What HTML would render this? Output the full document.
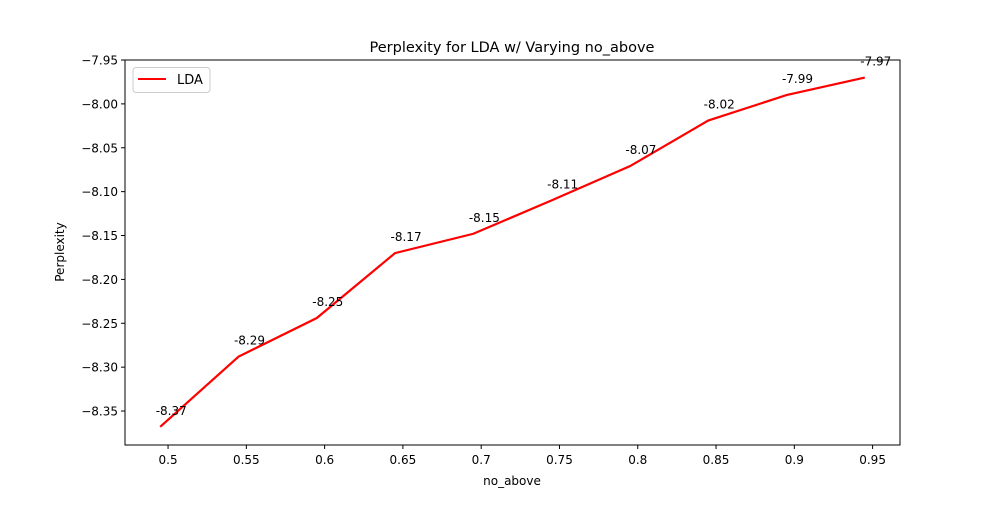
<!DOCTYPE html>
<html><head><meta charset="utf-8"><style>
body{margin:0;background:#fff;}
svg text{font-family:"DejaVu Sans","Liberation Sans",sans-serif;}
</style></head><body>
<svg id="chart" width="1000" height="500" xmlns="http://www.w3.org/2000/svg">
<rect width="1000" height="500" fill="#fff"/>
<text x="512" y="52" font-size="14.5" text-anchor="middle">Perplexity for LDA w/ Varying no_above</text>
<text x="512" y="485" font-size="12" text-anchor="middle">no_above</text>
<text transform="translate(64,252) rotate(-90)" font-size="12" text-anchor="middle">Perplexity</text>
<g id="ticks"></g>
<g id="marks"></g>
<rect x="125" y="60" width="775" height="385" fill="none" stroke="#000" stroke-width="1"/>
<g>
<rect x="133" y="67.5" width="77" height="25" rx="3" fill="#fff" stroke="#ccc"/>
<line x1="138" y1="79" x2="166" y2="79" stroke="red" stroke-width="2"/>
<text x="177" y="84" font-size="13">LDA</text>
</g>
</svg>
<script>
const xValues=[0.495,0.545,0.595,0.645,0.695,0.745,0.795,0.845,0.895,0.945];
const yValues=[-8.368,-8.288,-8.244,-8.170,-8.148,-8.110,-8.071,-8.019,-7.990,-7.970];
const valueLabels=["-8.37","-8.29","-8.25","-8.17","-8.15","-8.11","-8.07","-8.02","-7.99","-7.97"];
const xTicks=[0.5,0.55,0.6,0.65,0.7,0.75,0.8,0.85,0.9,0.95];
const xTickLabels=["0.5","0.55","0.6","0.65","0.7","0.75","0.8","0.85","0.9","0.95"];
const yTicks=[-7.95,-8.0,-8.05,-8.1,-8.15,-8.2,-8.25,-8.3,-8.35];
const yTickLabels=["\u22127.95","\u22128.00","\u22128.05","\u22128.10","\u22128.15","\u22128.20","\u22128.25","\u22128.30","\u22128.35"];
const X0=125,X1=900,Y0=60,Y1=445;
const xmin=0.4725,xmax=0.9675,ymin=-8.3887,ymax=-7.95;
const sx=v=>X0+(v-xmin)/(xmax-xmin)*(X1-X0);
const sy=v=>Y1-(v-ymin)/(ymax-ymin)*(Y1-Y0);
const NS="http://www.w3.org/2000/svg";
const tg=document.getElementById('ticks'),mg=document.getElementById('marks');
function mk(t,a,p){const e=document.createElementNS(NS,t);for(const k in a)e.setAttribute(k,a[k]);p.appendChild(e);return e;}
xTicks.forEach((v,i)=>{
 const l=mk('line',{x1:sx(v),x2:sx(v),y1:Y1,y2:Y1+4,stroke:'#000'},tg);
 
 
 const t=mk('text',{x:sx(v),y:Y1+19,'font-size':12,'text-anchor':'middle'},tg);t.textContent=xTickLabels[i];
 
 
});
yTicks.forEach((v,i)=>{
 const l=mk('line',{x1:X0-4,x2:X0,y1:sy(v),y2:sy(v),stroke:'#000'},tg);
 
 
 const t=mk('text',{x:X0-7,y:sy(v)+4.5,'font-size':12,'text-anchor':'end'},tg);t.textContent=yTickLabels[i];
 
 
});
const pl=mk('polyline',{points:xValues.map((x,i)=>sx(x)+','+sy(yValues[i])).join(' '),fill:'none',stroke:'red','stroke-width':2.2},mg);


xValues.forEach((x,i)=>{
 const t=mk('text',{x:sx(x)+11,y:sy(yValues[i])-12,'font-size':12,'text-anchor':'middle'},mg);t.textContent=valueLabels[i];
 
 
});
</script>
</body></html>
